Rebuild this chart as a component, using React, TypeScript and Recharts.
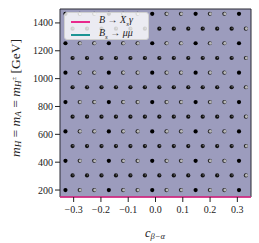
import {
  ScatterChart,
  Scatter,
  XAxis,
  YAxis,
  ReferenceArea,
  ReferenceLine,
} from "recharts";

// lattice of scan points
const cEven = [-0.33, -0.277, -0.224, -0.171, -0.118, -0.065, -0.012, 0.041, 0.094, 0.147, 0.2, 0.253, 0.306];
const cOdd = [-0.304, -0.251, -0.198, -0.145, -0.092, -0.039, 0.014, 0.067, 0.12, 0.173, 0.226, 0.279, 0.332];
const mEven = [200, 410, 621, 832, 1043, 1254, 1465];
const mOdd = [305, 516, 727, 938, 1148, 1359];
const evenRowMarks = ["full", "half", "half", "full", "half", "half", "full", "half", "half", "full", "half", "half", "full"];
const oddRowMarks = ["dark", "dark", "dark", "dark", "dark", "dark", "dark", "dark", "dark", "dark", "dark", "dark", "half"];

const xTicks = [-0.3, -0.2, -0.1, 0.0, 0.1, 0.2, 0.3];
const yTicks = [200, 400, 600, 800, 1000, 1200, 1400];

const points = [
  ...mEven.flatMap((m) => cEven.map((c, i) => ({ c, m, mark: evenRowMarks[i] }))),
  ...mOdd.flatMap((m) => cOdd.map((c, i) => ({ c, m, mark: oddRowMarks[i] }))),
];

const FONT = "'Liberation Serif', 'DejaVu Serif', serif";
const PINK = "#e8288c";
const TEAL = "#1c9494";

const Dot = (props: any) => {
  const { cx, cy, payload } = props;
  if (payload.mark === "half") {
    return (
      <g>
        <circle cx={cx - 0.2} cy={cy} r={2.1} fill="#222" />
        <circle cx={cx + 0.3} cy={cy - 0.1} r={1.5} fill="#b8b8b8" />
      </g>
    );
  }
  if (payload.mark === "dark") {
    return (
      <g>
        <circle cx={cx} cy={cy} r={2.1} fill="#111" />
        <circle cx={cx + 0.5} cy={cy - 0.4} r={0.8} fill="#666" />
      </g>
    );
  }
  return <circle cx={cx} cy={cy} r={2.1} fill="#000" />;
};

const fmtX = (v: number) => (v < 0 ? "\u2212" + Math.abs(v).toFixed(1) : v.toFixed(1));

export default function App() {
  return (
    <div style={{ position: "absolute", left: 0, top: 0, width: 259, height: 243, background: "#fff" }}>
      <ScatterChart width={259} height={243} margin={{ top: 9, right: 8, bottom: 0, left: 0 }}>
        <XAxis
          type="number"
          dataKey="c"
          domain={[-0.35, 0.35]}
          ticks={xTicks}
          tickFormatter={fmtX}
          axisLine={false}
          tickSize={5}
          tickMargin={4}
          tickLine={{ stroke: "#222" }}
          tick={{ fill: "#222", fontSize: 10, fontFamily: FONT }}
          height={46}
          allowDataOverflow
        />
        <YAxis
          type="number"
          dataKey="m"
          domain={[150, 1500]}
          ticks={yTicks}
          axisLine={false}
          tickSize={5}
          tickLine={{ stroke: "#222" }}
          tick={{ fill: "#222", fontSize: 10, fontFamily: FONT }}
          width={60}
          allowDataOverflow
        />
        <ReferenceArea x1={-0.35} x2={0.35} y1={150} y2={1500} fill="#9c9cbd" fillOpacity={1} stroke="#2a2a35" strokeWidth={1} />
        <ReferenceLine y={150} stroke={PINK} strokeWidth={1.5} />
        <Scatter data={points} shape={Dot} isAnimationActive={false} />
        <text
          transform="rotate(-90, 15, 98)"
          x={15}
          y={98}
          textAnchor="middle"
          dominantBaseline="central"
          fontFamily={FONT}
          fontSize={13.5}
          fill="#222"
        >
          <tspan fontStyle="italic">m</tspan>
          <tspan fontStyle="italic" fontSize={9} dy={3}>H</tspan>
          <tspan dy={-3}> = </tspan>
          <tspan fontStyle="italic">m</tspan>
          <tspan fontStyle="italic" fontSize={9} dy={3}>A</tspan>
          <tspan dy={-3}> = </tspan>
          <tspan fontStyle="italic">m</tspan>
          <tspan fontStyle="italic" fontSize={9} dy={3}>H</tspan>
          <tspan fontSize={7} dy={-4}>±</tspan>
          <tspan dy={1}>  [GeV]</tspan>
        </text>
        <text x={155} y={233} textAnchor="middle" dominantBaseline="central" fontFamily={FONT} fontSize={12.5} fill="#222">
          <tspan fontStyle="italic">c</tspan>
          <tspan fontStyle="italic" fontSize={8.5} dy={3}>β−α</tspan>
        </text>
      </ScatterChart>
      <div
        style={{
          position: "absolute",
          left: 64,
          top: 12,
          width: 83,
          height: 26,
          background: "rgba(255,255,255,0.8)",
          border: "1px solid #d0d0d0",
          borderRadius: 3,
          fontFamily: FONT,
          fontSize: 10,
          color: "#222",
        }}
      >
        <div style={{ position: "absolute", left: 6, top: 8, width: 19, height: 2, background: PINK }} />
        <div style={{ position: "absolute", left: 34, top: 1, whiteSpace: "nowrap", fontStyle: "italic" }}>
          B <span style={{ fontStyle: "normal" }}>→</span> X<sub style={{ fontSize: 7 }}>s</sub>γ
        </div>
        <div style={{ position: "absolute", left: 6, top: 21, width: 19, height: 2, background: TEAL }} />
        <div style={{ position: "absolute", left: 34, top: 14, whiteSpace: "nowrap", fontStyle: "italic" }}>
          B<sub style={{ fontSize: 7 }}>s</sub> <span style={{ fontStyle: "normal" }}>→</span> μμ
        </div>
      </div>
    </div>
  );
}
